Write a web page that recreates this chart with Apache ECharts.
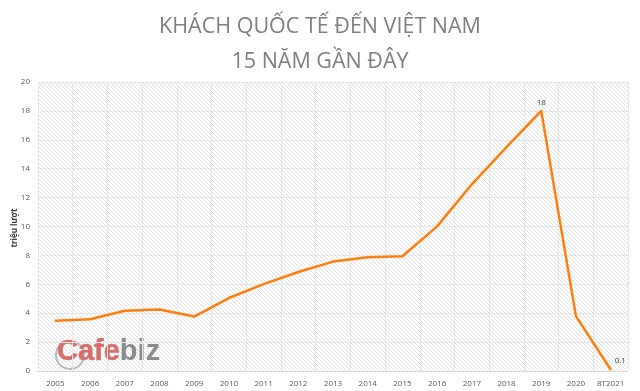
<!DOCTYPE html>
<html><head><meta charset="utf-8">
<script src="https://cdn.jsdelivr.net/npm/echarts@6/dist/echarts.min.js"></script>
<style>html,body{margin:0;padding:0;background:#fff}#c{width:640px;height:391px}</style>
</head><body><div id="c"></div>
<script>
const categories = ['2005','2006','2007','2008','2009','2010','2011','2012','2013','2014','2015','2016','2017','2018','2019','2020','8T2021'];
const visitors = [3.47, 3.58, 4.17, 4.25, 3.77, 5.05, 6.01, 6.85, 7.57, 7.87, 7.94, 10.01, 12.92, 15.5, 18.0, 3.8, 0.1];
const labelledPoints = ['2019', '8T2021'];
const labelTexts = {'2019': '18', '8T2021': '0.1'};
const titleLines = ['KHÁCH QUỐC TẾ ĐẾN VIỆT NAM', '15 NĂM GẦN ĐÂY'];
const yAxisName = 'triệu lượt';

const tile = document.createElement('canvas');
tile.width = 4; tile.height = 4;
const tc = tile.getContext('2d');
tc.fillStyle = '#ffffff'; tc.fillRect(0,0,4,4);
tc.strokeStyle = '#e0e0e0'; tc.lineWidth = 1;
tc.beginPath(); tc.moveTo(-1,-1); tc.lineTo(5,5); tc.moveTo(-1,3); tc.lineTo(1,5); tc.moveTo(3,-1); tc.lineTo(5,1); tc.stroke();

const chart = echarts.init(document.getElementById('c'));
const data = visitors.map((v,i) => {
  const cat = categories[i];
  if (labelledPoints.includes(cat)) {
    return {value: v, label: {show: true, formatter: labelTexts[cat],
      position: cat === '8T2021' ? [5,-12] : 'top', distance: 3}};
  }
  return v;
});
chart.setOption({
  animation: false,
  grid: {left: 38, right: 12, top: 82, bottom: 20, show: true, borderWidth: 0,
    outerBoundsMode: 'none', containLabel: false,
    backgroundColor: {image: tile, repeat: 'repeat'}},
  xAxis: {
    type: 'category', data: categories, boundaryGap: true,
    axisLine: {lineStyle: {color: '#d9d9d9'}},
    axisTick: {show: false},
    axisLabel: {color: '#595959', fontSize: 8, fontFamily: 'Open Sans', margin: 9, interval: 0},
    splitLine: {show: true, interval: 0, lineStyle: {color: '#e6e6e6'}}
  },
  yAxis: {
    type: 'value', min: 0, max: 20, interval: 2,
    axisLine: {show: false}, axisTick: {show: false},
    axisLabel: {color: '#595959', fontSize: 8, fontFamily: 'Open Sans', margin: 8},
    splitLine: {lineStyle: {color: '#e6e6e6'}}
  },
  series: [{
    type: 'line', data: data, symbol: 'circle', symbolSize: 2, showSymbol: true,
    itemStyle: {color: '#ff7f0e', borderWidth: 0},
    lineStyle: {color: '#ff7f0e', width: 2.5},
    label: {show: false, color: '#404040', fontSize: 8, fontFamily: 'Open Sans'}
  }],
  graphic: [
    {type: 'text', x: 320, y: 27, style: {text: titleLines[0], textAlign: 'center', textVerticalAlign: 'middle',
      fontFamily: 'Open Sans', fontSize: 21.5, fill: '#7f7f7f'}},
    {type: 'text', x: 320, y: 62, style: {text: titleLines[1], textAlign: 'center', textVerticalAlign: 'middle',
      fontFamily: 'Open Sans', fontSize: 21.5, fill: '#7f7f7f'}},
    {type: 'text', x: 15, y: 228, rotation: Math.PI / 2, style: {text: yAxisName, textAlign: 'center', textVerticalAlign: 'middle',
      fontFamily: 'Open Sans', fontSize: 8, fontWeight: 'bold', fill: '#404040'}},
    {type: 'circle', x: 70, y: 355, shape: {r: 14}, style: {fill: 'none', stroke: '#b8b8b8', lineWidth: 2}},
    {type: 'text', x: 57, y: 366, style: {
      text: '{a|Cafe}{b|biz}', textVerticalAlign: 'bottom',
      rich: {
        a: {fontSize: 29, fontFamily: 'Liberation Sans', fontWeight: 'bold', fill: '#e06a6a', stroke: '#999999', lineWidth: 0.6},
        b: {fontSize: 29, fontFamily: 'Liberation Sans', fontWeight: 'bold', fill: '#8c8c8c'}
      }
    }}
  ]
});
</script></body></html>
